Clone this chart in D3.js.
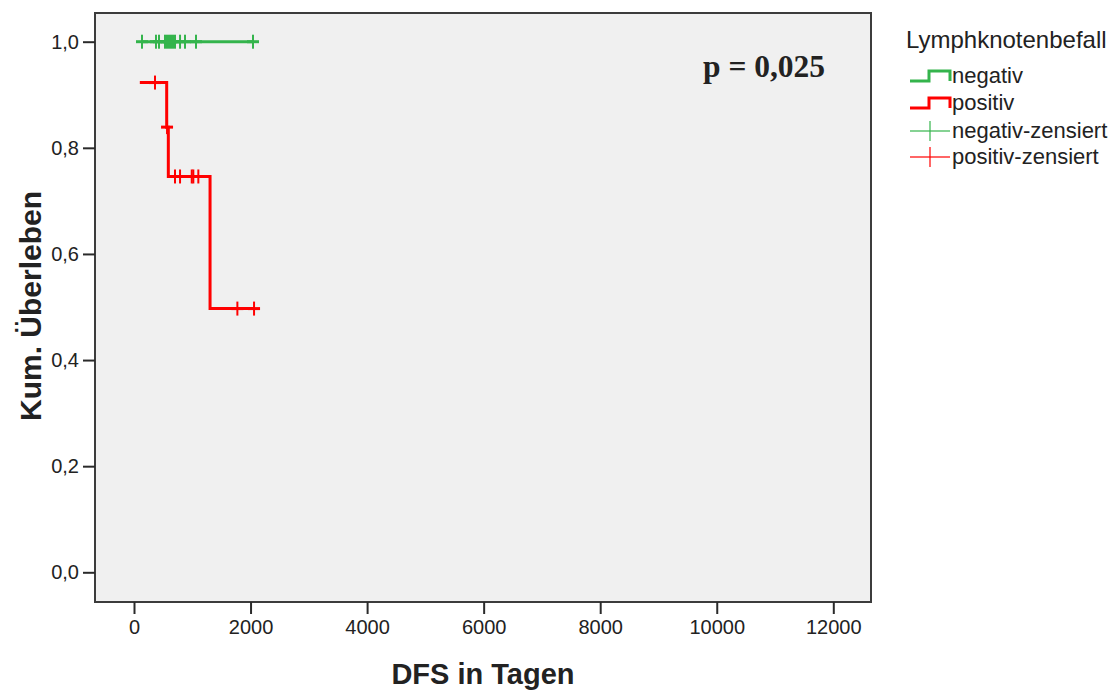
<!DOCTYPE html>
<html>
<head>
<meta charset="utf-8">
<script src="https://cdn.jsdelivr.net/npm/d3@7/dist/d3.min.js"></script>
<style>
  html, body { margin: 0; padding: 0; background: #ffffff; }
  svg { display: block; }
  text { font-family: "Liberation Sans", Arial, sans-serif; fill: #222; }
</style>
</head>
<body>
<svg id="chart" width="1120" height="691"></svg>
<script>
// Kaplan-Meier step points (time in days, cumulative survival)
const negativStepTimes = [137, 2042];
const negativStepSurv  = [1.0, 1.0];
const positivStepTimes = [100, 561, 589, 1305, 2060];
const positivStepSurv  = [0.923, 0.839, 0.746, 0.497, 0.497];

// Censored observations
const negativCensorTimes = [137, 377, 429, 532, 566, 601, 635, 669, 704, 790, 875, 1064, 2042];
const negativCensorSurv  = [1, 1, 1, 1, 1, 1, 1, 1, 1, 1, 1, 1, 1];
const positivCensorTimes = [360, 567, 704, 790, 991, 1018, 1104, 1774, 2060];
const positivCensorSurv  = [0.923, 0.839, 0.746, 0.746, 0.746, 0.746, 0.746, 0.497, 0.497];

const xTickValues = [0, 2000, 4000, 6000, 8000, 10000, 12000];
const yTickValues = [0, 0.2, 0.4, 0.6, 0.8, 1.0];
const yTickLabels = ["0,0", "0,2", "0,4", "0,6", "0,8", "1,0"];

const groupNames  = ["negativ", "positiv"];
const legendTitle = "Lymphknotenbefall";
const pValueText  = "p = 0,025";

const GREEN = "#34b44c";
const RED = "#ff0000";

const svg = d3.select("#chart");
const frame = { left: 95, top: 13, right: 871, bottom: 602 };

const x = d3.scaleLinear().domain([0, 12000]).range([134, 833.3]);
const y = d3.scaleLinear().domain([0, 1]).range([572.3, 41.7]);

// plot background and frame
svg.append("rect")
  .attr("x", frame.left).attr("y", frame.top)
  .attr("width", frame.right - frame.left).attr("height", frame.bottom - frame.top)
  .attr("fill", "#f0f0f0").attr("stroke", "#3c3c3c").attr("stroke-width", 2);

// axes
const xAxis = d3.axisBottom(x).tickValues(xTickValues).tickSize(12).tickPadding(6)
  .tickFormat(d3.format("d"));
const gx = svg.append("g").attr("transform", `translate(0,${frame.bottom})`).call(xAxis);
gx.select(".domain").remove();
gx.selectAll(".tick line").attr("stroke", "#2a2a2a").attr("stroke-width", 2);
gx.selectAll(".tick text").attr("font-size", 20).attr("fill", "#2a2a2a")
  .style("font-family", "'Liberation Sans', Arial, sans-serif");

const yAxis = d3.axisLeft(y).tickValues(yTickValues).tickSize(12).tickPadding(4)
  .tickFormat((d, i) => yTickLabels[i]);
const gy = svg.append("g").attr("transform", `translate(${frame.left},0)`).call(yAxis);
gy.select(".domain").remove();
gy.selectAll(".tick line").attr("stroke", "#2a2a2a").attr("stroke-width", 2);
gy.selectAll(".tick text").attr("font-size", 20).attr("fill", "#2a2a2a")
  .style("font-family", "'Liberation Sans', Arial, sans-serif");

// axis titles
svg.append("text")
  .attr("x", 483).attr("y", 684)
  .attr("text-anchor", "middle")
  .attr("font-size", 29).attr("font-weight", "bold").attr("fill", "#1a1a1a")
  .text("DFS in Tagen");

svg.append("text")
  .attr("transform", "translate(41,306) rotate(-90)")
  .attr("text-anchor", "middle")
  .attr("font-size", 30).attr("font-weight", "bold").attr("fill", "#1a1a1a")
  .text("Kum. Überleben");

// survival curves
const stepLine = d3.line()
  .x(d => x(d[0])).y(d => y(d[1]))
  .curve(d3.curveStepAfter);

function drawCurve(times, surv, color) {
  svg.append("path")
    .datum(d3.zip(times, surv))
    .attr("d", stepLine)
    .attr("fill", "none")
    .attr("stroke", color)
    .attr("stroke-width", 3)
    .attr("stroke-linejoin", "miter");
}

function drawCensors(times, surv, color) {
  const g = svg.append("g");
  d3.zip(times, surv).forEach(([t, s]) => {
    const cx = x(t), cy = y(s);
    g.append("line").attr("x1", cx).attr("x2", cx).attr("y1", cy - 7).attr("y2", cy + 7)
      .attr("stroke", color).attr("stroke-width", 2);
    g.append("line").attr("x1", cx - 6).attr("x2", cx + 6).attr("y1", cy).attr("y2", cy)
      .attr("stroke", color).attr("stroke-width", 3);
  });
}

drawCurve(negativStepTimes, negativStepSurv, GREEN);
drawCurve(positivStepTimes, positivStepSurv, RED);
drawCensors(negativCensorTimes, negativCensorSurv, GREEN);
drawCensors(positivCensorTimes, positivCensorSurv, RED);

// p value
svg.append("text")
  .attr("x", 703).attr("y", 77)
  .style("font-family", "'Liberation Serif', 'Times New Roman', serif")
  .attr("font-size", 31.5).attr("font-weight", "bold").attr("fill", "#000")
  .text(pValueText);

// legend
const lg = svg.append("g");
lg.append("text").attr("x", 906).attr("y", 48).attr("font-size", 24).attr("fill", "#222")
  .text(legendTitle);

const legendItems = [
  { label: groupNames[0], color: GREEN, kind: "step", yMid: 76 },
  { label: groupNames[1], color: RED, kind: "step", yMid: 103 },
  { label: groupNames[0] + "-zensiert", color: GREEN, kind: "cross", yMid: 131 },
  { label: groupNames[1] + "-zensiert", color: RED, kind: "cross", yMid: 157 }
];

legendItems.forEach(item => {
  if (item.kind === "step") {
    const lo = item.yMid + 5, hi = item.yMid - 5;
    lg.append("path")
      .attr("d", `M910,${lo}H929V${hi}H950V${lo}`)
      .attr("fill", "none").attr("stroke", item.color).attr("stroke-width", 3);
  } else {
    lg.append("line").attr("x1", 910).attr("x2", 950)
      .attr("y1", item.yMid).attr("y2", item.yMid)
      .attr("stroke", item.color).attr("stroke-width", 1.5).attr("opacity", 0.8);
    lg.append("line").attr("x1", 930).attr("x2", 930)
      .attr("y1", item.yMid - 10).attr("y2", item.yMid + 10)
      .attr("stroke", item.color).attr("stroke-width", 1.5).attr("opacity", 0.8);
  }
  lg.append("text").attr("x", 952).attr("y", item.yMid + 7)
    .attr("font-size", 22).attr("fill", "#222")
    .text(item.label);
});
</script>
</body>
</html>
